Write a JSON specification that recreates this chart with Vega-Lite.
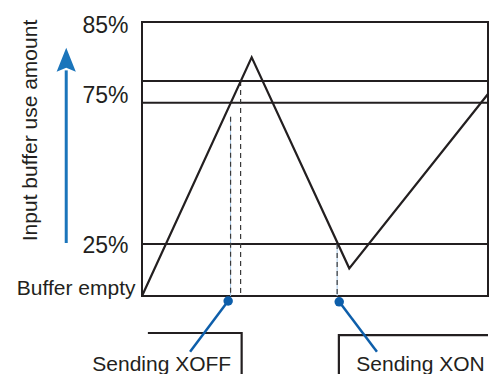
{
  "$schema": "https://vega.github.io/schema/vega-lite/v6.json",
  "width": 346,
  "height": 274,
  "autosize": {"type": "none"},
  "padding": {"left": 142, "top": 22, "right": 3, "bottom": 78},
  "background": "white",
  "config": {
    "view": {"stroke": "#231f20", "strokeWidth": 2},
    "font": "Liberation Sans",
    "text": {"font": "Liberation Sans", "color": "#231f20"}
  },
  "datasets": {
    "thresholds": [{"level": 25}, {"level": 75}, {"level": 80}],
    "buffer": [
      {"t": 0, "level": 0},
      {"t": 31.7, "level": 82},
      {"t": 59.9, "level": 13.3},
      {"t": 100, "level": 77}
    ],
    "guides": [
      {"t": 25.6, "level": 70, "base": 0, "halo": true},
      {"t": 28.5, "level": 80, "base": 0, "halo": false},
      {"t": 56.4, "level": 25, "base": 0, "halo": true}
    ],
    "arrow": [{"t": -21.9, "level": 25.35, "top": 80.9, "tip": 81.8}],
    "signals": [
      {"wave": "XOFF", "i": 0, "t": 1.7, "sig": 1},
      {"wave": "XOFF", "i": 1, "t": 28.8, "sig": 1},
      {"wave": "XOFF", "i": 2, "t": 28.8, "sig": -0.6},
      {"wave": "XON", "i": 0, "t": 56.9, "sig": -0.6},
      {"wave": "XON", "i": 1, "t": 56.9, "sig": 0.95},
      {"wave": "XON", "i": 2, "t": 100, "sig": 0.95}
    ],
    "callouts": [
      {"label": "Sending XOFF", "t": 24.9, "sig": 1.78, "t2": 13.9, "sig2": 0.54, "tl": 5.7, "ly": 0.08},
      {"label": "Sending XON", "t": 57.0, "sig": 1.76, "t2": 67.9, "sig2": 0.54, "tl": 80.5, "ly": 0.08}
    ]
  },
  "layer": [
    {
      "layer": [
        {
          "data": {"name": "thresholds"},
          "mark": {"type": "rule", "color": "#231f20", "strokeWidth": 2},
          "encoding": {
            "y": {
              "field": "level",
              "type": "quantitative",
              "scale": {"domain": [0, 25, 75, 80, 85], "range": [274, 222, 80.7, 59, 0], "nice": false, "zero": false},
              "axis": {
                "values": [0, 25, 75, 85],
                "labelExpr": "datum.value == 0 ? 'Buffer empty' : datum.value + '%'",
                "ticks": false,
                "domain": false,
                "grid": false,
                "labelOverlap": false,
                "labelBound": false,
                "labelFlush": false,
                "labelColor": "#231f20",
                "labelFont": "Liberation Sans",
                "labelFontSize": {"condition": {"test": "datum.value == 0", "value": 21}, "value": 23},
                "labelPadding": {"condition": {"test": "datum.value == 0", "value": 7}, "value": 14},
                "labelOffset": {
                  "condition": [
                    {"test": "datum.value == 0", "value": -8},
                    {"test": "datum.value == 75", "value": -7},
                    {"test": "datum.value == 85", "value": 3}
                  ],
                  "value": 1
                },
                "title": "Input buffer use amount",
                "titleFont": "Liberation Sans",
                "titleFontSize": 21,
                "titleFontWeight": "normal",
                "titleColor": "#231f20",
                "titleAngle": -90,
                "titleX": -106,
                "titleY": 108,
                "titleAlign": "center",
                "titleBaseline": "alphabetic"
              }
            }
          }
        },
        {
          "data": {"name": "guides"},
          "transform": [{"filter": "datum.halo"}],
          "mark": {"type": "rule", "color": "#a9c9e8", "strokeWidth": 1},
          "encoding": {
            "x": {"field": "t", "type": "quantitative", "scale": {"domain": [0, 100], "nice": false, "zero": false}, "axis": null},
            "y": {"field": "level", "type": "quantitative"},
            "y2": {"field": "base"}
          }
        },
        {
          "data": {"name": "guides"},
          "mark": {"type": "rule", "color": "#3a3a3a", "strokeWidth": 1.2, "strokeDash": [5, 4]},
          "encoding": {
            "x": {"field": "t", "type": "quantitative"},
            "y": {"field": "level", "type": "quantitative"},
            "y2": {"field": "base"}
          }
        },
        {
          "data": {"name": "buffer"},
          "mark": {"type": "line", "color": "#231f20", "strokeWidth": 2.2},
          "encoding": {
            "x": {"field": "t", "type": "quantitative"},
            "y": {"field": "level", "type": "quantitative"}
          }
        },
        {
          "data": {"name": "arrow"},
          "mark": {"type": "rule", "color": "#1b75bb", "strokeWidth": 3},
          "encoding": {
            "x": {"field": "t", "type": "quantitative"},
            "y": {"field": "level", "type": "quantitative"},
            "y2": {"field": "top"}
          }
        },
        {
          "data": {"name": "arrow"},
          "mark": {"type": "point", "filled": true, "color": "#1b75bb", "opacity": 1, "shape": "M0,-1L0.8,1L0,0.67L-0.8,1Z", "size": 576},
          "encoding": {
            "x": {"field": "t", "type": "quantitative"},
            "y": {"field": "tip", "type": "quantitative"}
          }
        }
      ]
    },
    {
      "layer": [
        {
          "data": {"name": "signals"},
          "mark": {"type": "line", "color": "#231f20", "strokeWidth": 2.2},
          "encoding": {
            "x": {"field": "t", "type": "quantitative"},
            "y": {"field": "sig", "type": "quantitative", "scale": {"domain": [0, 1], "range": [352, 311], "nice": false, "zero": false}, "axis": null},
            "detail": {"field": "wave"},
            "order": {"field": "i"}
          }
        },
        {
          "data": {"name": "callouts"},
          "mark": {"type": "rule", "color": "#0d5eaa", "strokeWidth": 2.5},
          "encoding": {
            "x": {"field": "t", "type": "quantitative"},
            "y": {"field": "sig", "type": "quantitative", "axis": null},
            "x2": {"field": "t2"},
            "y2": {"field": "sig2"}
          }
        },
        {
          "data": {"name": "callouts"},
          "mark": {"type": "point", "filled": true, "color": "#0d5eaa", "opacity": 1, "size": 90},
          "encoding": {
            "x": {"field": "t", "type": "quantitative"},
            "y": {"field": "sig", "type": "quantitative", "axis": null}
          }
        },
        {
          "data": {"name": "callouts"},
          "mark": {"type": "text", "fontSize": 21, "align": "center", "baseline": "alphabetic", "color": "#231f20", "font": "Liberation Sans"},
          "encoding": {
            "x": {"field": "tl", "type": "quantitative"},
            "y": {"field": "ly", "type": "quantitative", "axis": null},
            "text": {"field": "label"}
          }
        }
      ]
    }
  ],
  "resolve": {"scale": {"y": "independent"}, "axis": {"y": "independent"}}
}
